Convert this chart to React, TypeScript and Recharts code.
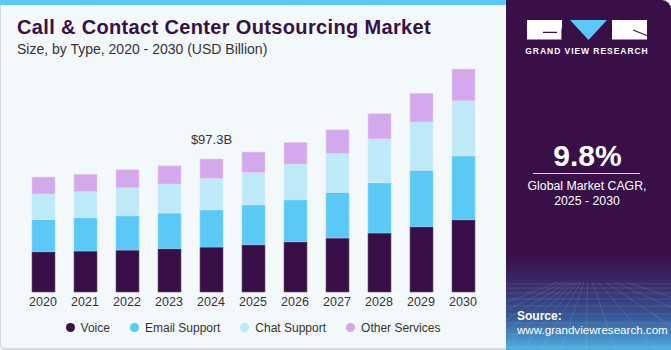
import React from "react";
import { BarChart, Bar, XAxis, YAxis, Legend, LabelList } from "recharts";

const years = ["2020", "2021", "2022", "2023", "2024", "2025", "2026", "2027", "2028", "2029", "2030"];
const voice = [29.5, 30.0, 30.7, 31.7, 32.9, 34.6, 36.8, 39.5, 43.2, 47.8, 52.9];
const email = [23.6, 24.4, 25.1, 26.1, 27.3, 29.3, 30.7, 33.4, 36.8, 41.2, 46.8];
const chat = [18.6, 19.0, 20.5, 21.2, 22.9, 23.6, 26.1, 28.5, 32.0, 35.4, 40.2];
const other = [12.4, 12.7, 13.2, 13.4, 14.2, 14.9, 15.8, 17.3, 18.5, 20.9, 23.2];
const totalLabels = ["", "", "", "", "$97.3B", "", "", "", "", "", ""];

const seriesNames = ["Voice", "Email Support", "Chat Support", "Other Services"];
const seriesColors = ["#381047", "#5bc9f6", "#bde9f9", "#d4a8ec"];

const data = years.map((y, i) => ({
  year: y,
  voice: voice[i],
  email: email[i],
  chat: chat[i],
  other: other[i],
  label: totalLabels[i],
}));

const FONT = "'Liberation Sans', Arial, sans-serif";

const renderLegend = (props: any) => {
  const payload = [...(props.payload || [])].sort(
    (a: any, b: any) => seriesNames.indexOf(a.value) - seriesNames.indexOf(b.value)
  );
  return (
    <div style={{ display: "flex", justifyContent: "center", alignItems: "center", fontFamily: FONT, fontSize: 12, color: "#333" }}>
      {payload.map((p: any, i: number) => (
        <div key={i} style={{ display: "flex", alignItems: "center", marginLeft: i === 0 ? 0 : 20 }}>
          <span style={{ display: "inline-block", width: 9, height: 9, borderRadius: "50%", background: p.color, marginRight: 6 }} />
          <span>{p.value}</span>
        </div>
      ))}
    </div>
  );
};

const gridH = [284, 288, 293, 299, 306, 314, 323, 334, 347];
const gridV = [-120, -80, -50, -25, -5, 15, 35, 55, 80, 110, 150, 200, 260, 330];

export default function App() {
  return (
    <div style={{ position: "absolute", left: 0, top: 0, width: 671, height: 350, overflow: "hidden", fontFamily: FONT }}>
      {/* left panel */}
      <div style={{ position: "absolute", left: 0, top: 0, width: 506, height: 350, background: "#f3f8fb", boxSizing: "border-box", borderLeft: "1px solid #d6d9dc", borderBottom: "2px solid #d6d9dc", borderBottomLeftRadius: 5 }} />
      <div style={{ position: "absolute", left: 0, top: 0, width: 506, height: 5, background: "#5bc9f6" }} />
      <div style={{ position: "absolute", left: 17, top: 16, fontSize: 20, fontWeight: 700, color: "#381047", letterSpacing: 0.35, whiteSpace: "nowrap" }}>
        Call &amp; Contact Center Outsourcing Market
      </div>
      <div style={{ position: "absolute", left: 17, top: 41, fontSize: 14, color: "#333", whiteSpace: "nowrap" }}>
        Size, by Type, 2020 - 2030 (USD Billion)
      </div>
      <div style={{ position: "absolute", left: 0, top: 0 }}>
        <BarChart width={506} height={350} data={data} margin={{ top: 46, right: 22, bottom: 28, left: 22 }} barSize={23}>
          <XAxis dataKey="year" axisLine={false} tickLine={false} tickSize={3} height={30} interval={0}
            tick={{ fontSize: 12.5, fill: "#333", fontFamily: FONT }} />
          <YAxis hide domain={[0, 180]} />
          <Legend verticalAlign="middle" align="center" layout="horizontal" content={renderLegend}
            wrapperStyle={{ top: 320.5, left: 22, width: 462 }} />
          <Bar dataKey="voice" name={seriesNames[0]} stackId="a" fill={seriesColors[0]} stroke="#6d4d7a" strokeWidth={0.6} isAnimationActive={false} />
          <Bar dataKey="email" name={seriesNames[1]} stackId="a" fill={seriesColors[1]} stroke="#8fd7f7" strokeWidth={0.6} isAnimationActive={false} />
          <Bar dataKey="chat" name={seriesNames[2]} stackId="a" fill={seriesColors[2]} stroke="#d6f1fb" strokeWidth={0.6} isAnimationActive={false} />
          <Bar dataKey="other" name={seriesNames[3]} stackId="a" fill={seriesColors[3]} stroke="#e6cdf4" strokeWidth={0.6} isAnimationActive={false}>
            <LabelList dataKey="label" position="top" offset={15} style={{ fontSize: 13, fill: "#333", fontFamily: FONT }} />
          </Bar>
        </BarChart>
      </div>

      {/* right panel */}
      <div style={{ position: "absolute", left: 506, top: 0, width: 165, height: 350, borderTopRightRadius: 9, overflow: "hidden",
        background: "linear-gradient(to bottom, #381047 0%, #381047 73%, #3b2a68 81%, #345392 90%, #4fb0e3 100%)" }}>
        <svg width={165} height={350} style={{ position: "absolute", left: 0, top: 0 }}>
          {/* perspective grid */}
          <g stroke="#ffffff" strokeOpacity={0.16} strokeWidth={0.7}>
            {gridH.map((y, i) => (
              <line key={"h" + i} x1={0} x2={165} y1={y} y2={y} />
            ))}
            {gridV.map((x, i) => (
              <line key={"v" + i} x1={82 + (x - 82) * 0.15} y1={282} x2={x} y2={350} />
            ))}
          </g>
          {/* logo */}
          <rect x={21} y={20} width={35} height={19.5} fill="#ffffff" />
          <path d="M37 32.3 H51 M56 28.5 V39.5" stroke="#381047" strokeWidth={1.2} fill="none" />
          <polygon points="64,20 101,20 82.5,40" fill="#5bc9f6" />
          <rect x={106} y={20} width={35} height={19.5} fill="#ffffff" />
          <path d="M127 30 L141 35.5" stroke="#381047" strokeWidth={1.2} fill="none" />
          <text x={81} y={53.5} textAnchor="middle" fill="#ffffff" fontSize={8.5} fontWeight={700} letterSpacing={0.95} fontFamily={FONT}>
            GRAND VIEW RESEARCH
          </text>
          {/* CAGR */}
          <text x={81.5} y={166} textAnchor="middle" fill="#ffffff" fontSize={30} fontWeight={700} fontFamily={FONT}>9.8%</text>
          <line x1={27} x2={134} y1={173.5} y2={173.5} stroke="#ffffff" strokeOpacity={0.8} strokeWidth={1} />
          <text x={81} y={189.5} textAnchor="middle" fill="#ffffff" fontSize={12.3} fontFamily={FONT}>Global Market CAGR,</text>
          <text x={81} y={204.5} textAnchor="middle" fill="#ffffff" fontSize={12.3} fontFamily={FONT}>2025 - 2030</text>
          {/* source */}
          <text x={11} y={319.5} fill="#ffffff" fontSize={12} fontWeight={700} fontFamily={FONT}>Source:</text>
          <text x={11} y={334} fill="#ffffff" fontSize={11.6} fontFamily={FONT}>www.grandviewresearch.com</text>
        </svg>
      </div>
    </div>
  );
}
